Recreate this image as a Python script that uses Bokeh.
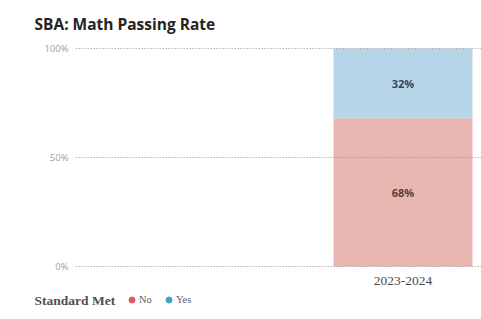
from bokeh.plotting import figure
from bokeh.models import ColumnDataSource, FixedTicker, Range1d, Label, Legend, LegendItem
from bokeh.embed import file_html
from bokeh.resources import INLINE
from bokeh.core.properties import value

# ---- data ----
title_text = "SBA: Math Passing Rate"
categories = ["2023-2024"]
series = ["No", "Yes"]
no_values = [0.68]
yes_values = [0.32]
y_ticks = [0, 0.5, 1]
y_tick_labels = ["0%", "50%", "100%"]
legend_title = "Standard Met"

# ---- styles / layout ----
bar_colors = ["#E8B5B1", "#B7D5E8"]
dot_colors = ["#DC5A5A", "#4A9BCD"]
X_START, X_END = -2.896, 0.565      # horizontal view (bar width = 1 unit)
Y_START, Y_END = -0.2431, 1.2202    # vertical view (0..1 = value axis)
AXIS_X = -2.356                     # where the value axis sits

xs = list(range(len(categories)))
src = ColumnDataSource(dict(x=xs, No=no_values, Yes=yes_values))

p = figure(width=481, height=319,
           x_range=Range1d(X_START, X_END), y_range=Range1d(Y_START, Y_END),
           output_backend="svg", toolbar_location=None,
           min_border_left=0, min_border_right=0,
           min_border_top=0, min_border_bottom=0)
p.outline_line_color = None
p.background_fill_color = "white"
p.border_fill_color = "white"
p.xgrid.visible = False
p.ygrid.visible = False

p.vbar_stack(series, x="x", width=1.0, color=bar_colors, source=src, line_color=None)

# dotted gridlines starting at the value axis
p.segment(x0=[AXIS_X] * len(y_ticks), x1=[X_END] * len(y_ticks), y0=y_ticks, y1=y_ticks,
          line_color="#8C8C8C", line_dash="1 2", line_width=1)

# data labels
lab_x, lab_y, lab_t, lab_c = [], [], [], []
for i, (n, y) in enumerate(zip(no_values, yes_values)):
    lab_x += [xs[i], xs[i]]
    lab_y += [n / 2, n + y / 2]
    lab_t += [f"{round(n * 100)}%", f"{round(y * 100)}%"]
    lab_c += ["#5A3E3E", "#34495E"]
p.text(x=lab_x, y=lab_y, text=lab_t, text_color=lab_c,
       text_font=value("Open Sans"), text_font_style="bold",
       text_font_size="11px", text_align="center", text_baseline="middle")

# axes (placed inside the view)
p.yaxis.fixed_location = AXIS_X
p.yaxis.ticker = FixedTicker(ticks=y_ticks)
p.yaxis.major_label_overrides = {t: l for t, l in zip(y_ticks, y_tick_labels)}
p.yaxis.axis_line_color = None
p.yaxis.major_tick_line_color = None
p.yaxis.minor_tick_line_color = None
p.yaxis.major_label_text_font = "Open Sans"
p.yaxis.major_label_text_font_size = "9.5px"
p.yaxis.major_label_text_color = "#A0A0A0"
p.yaxis.major_label_standoff = 1

p.xaxis.fixed_location = 0
p.xaxis.ticker = FixedTicker(ticks=xs)
p.xaxis.major_label_overrides = {x: c for x, c in zip(xs, categories)}
p.xaxis.axis_line_color = None
p.xaxis.major_tick_line_color = None
p.xaxis.minor_tick_line_color = None
p.xaxis.major_label_text_font = "Liberation Serif"
p.xaxis.major_label_text_font_size = "13.5px"
p.xaxis.major_label_text_color = "#4A4A4A"
p.xaxis.major_label_standoff = 4

# title
p.add_layout(Label(x=34, y=295.5, x_units="screen", y_units="screen",
                   text=title_text, text_font="Open Sans", text_font_style="bold",
                   text_font_size="15.5px", text_color="#252423",
                   text_baseline="middle"))

# legend
nan = float("nan")
dummies = [p.scatter(x=[nan], y=[nan], marker="circle", size=7, color=c) for c in dot_colors]
legend = Legend(items=[LegendItem(label=s, renderers=[r]) for s, r in zip(series, dummies)],
                orientation="horizontal", location=(124, 12),
                glyph_width=15, glyph_height=15, label_standoff=0, spacing=2,
                padding=0, margin=0, border_line_color=None, background_fill_alpha=0,
                label_text_font="Liberation Serif", label_text_font_size="10.5px",
                label_text_color="#606060")
p.add_layout(legend)
p.add_layout(Label(x=34, y=19, x_units="screen", y_units="screen",
                   text=legend_title, text_font="Liberation Serif", text_font_style="bold",
                   text_font_size="13.5px", text_color="#505050", text_baseline="middle"))

open("out.html", "w").write(file_html(p, INLINE))
